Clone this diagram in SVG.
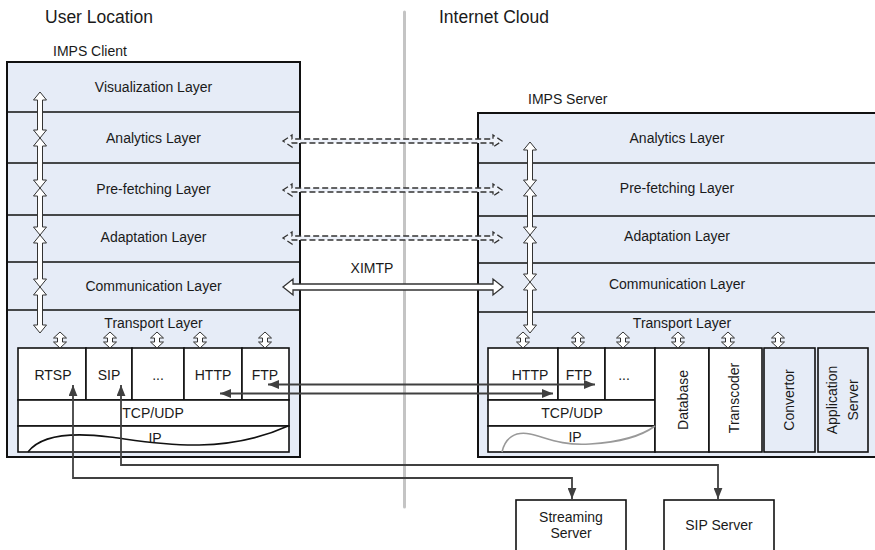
<svg xmlns="http://www.w3.org/2000/svg" width="875" height="550" viewBox="0 0 875 550">
<style>
text{font-family:"Liberation Sans",Arial,sans-serif;font-size:14px;fill:#1a1a1a}
.t{font-size:17.5px}
.m{text-anchor:middle}
.box{fill:#e6ecf7;stroke:#111;stroke-width:2}
.ln{stroke:#111;stroke-width:1.6;fill:none}
.cell{fill:#fff;stroke:#111;stroke-width:1.6}
.cellb{fill:#e6ecf7;stroke:#111;stroke-width:1.6}
.ha{fill:#fff;stroke:#333;stroke-width:1}
.da{fill:#eef2fa;stroke:#333;stroke-width:1.3;stroke-dasharray:6 3}
.xa{fill:#fff;stroke:#333;stroke-width:1.3}
.cn{fill:none;stroke:#404040;stroke-width:1.8;marker-start:url(#ah);marker-end:url(#ah)}
</style>
<defs>
<marker id="ah" viewBox="0 0 10 8" refX="10" refY="4" markerWidth="11" markerHeight="9" markerUnits="userSpaceOnUse" orient="auto-start-reverse"><path d="M0,0 L10,4 L0,8 Z" fill="#404040"/></marker>
<path id="sa" d="M0,0 L6.5,6 L2.5,6 L2.5,10 L6.5,10 L0,16 L-6.5,10 L-2.5,10 L-2.5,6 L-6.5,6 Z" class="ha"/>
</defs>

<g id="titles">
<text class="t" x="45" y="23">User Location</text>
<text class="t" x="439" y="23">Internet Cloud</text>
</g>

<line id="divider" x1="404.5" y1="12" x2="404.5" y2="507" stroke="#c4c4c4" stroke-width="3" stroke-linecap="round"/>

<g id="client">
<text x="53" y="56">IMPS Client</text>
<rect class="box" x="7" y="62" width="293" height="395"/>
<path class="ln" d="M7,112H300M7,163H300M7,215H300M7,262H300M7,310H300"/>
<text class="m" x="153.5" y="92">Visualization Layer</text>
<text class="m" x="153.5" y="143">Analytics Layer</text>
<text class="m" x="153.5" y="194">Pre-fetching Layer</text>
<text class="m" x="153.5" y="242">Adaptation Layer</text>
<text class="m" x="153.5" y="291">Communication Layer</text>
<text class="m" x="153.5" y="328">Transport Layer</text>
<rect class="cell" x="18" y="348" width="68" height="52"/>
<rect class="cell" x="86" y="348" width="46" height="52"/>
<rect class="cell" x="132" y="348" width="52" height="52"/>
<rect class="cell" x="184" y="348" width="58" height="52"/>
<rect class="cell" x="242" y="348" width="47" height="52"/>
<rect class="cell" x="18" y="400" width="271" height="26"/>
<rect class="cell" x="18" y="426" width="271" height="26"/>
<path class="ln" d="M28,452 C40,436 70,432 110,437 S220,457 288,426"/>
<text class="m" x="53" y="380">RTSP</text>
<text class="m" x="109" y="380">SIP</text>
<text class="m" x="158" y="380">...</text>
<text class="m" x="213" y="380">HTTP</text>
<text class="m" x="265" y="380">FTP</text>
<text class="m" x="153" y="418">TCP/UDP</text>
<text class="m" x="155" y="443">IP</text>
<path class="ha" d="M40,92 L46.5,100 L42.5,100 L42.5,130 L46.5,130 L40,138 L33.5,130 L37.5,130 L37.5,100 L33.5,100 Z"/>
<path class="ha" d="M40,138 L46.5,146 L42.5,146 L42.5,180 L46.5,180 L40,188 L33.5,180 L37.5,180 L37.5,146 L33.5,146 Z"/>
<path class="ha" d="M40,188 L46.5,196 L42.5,196 L42.5,227 L46.5,227 L40,235 L33.5,227 L37.5,227 L37.5,196 L33.5,196 Z"/>
<path class="ha" d="M40,235 L46.5,243 L42.5,243 L42.5,279 L46.5,279 L40,287 L33.5,279 L37.5,279 L37.5,243 L33.5,243 Z"/>
<path class="ha" d="M40,287 L46.5,295 L42.5,295 L42.5,325 L46.5,325 L40,333 L33.5,325 L37.5,325 L37.5,295 L33.5,295 Z"/>
<use href="#sa" x="60" y="332"/>
<use href="#sa" x="110" y="332"/>
<use href="#sa" x="157" y="332"/>
<use href="#sa" x="200" y="332"/>
<use href="#sa" x="265" y="332"/>
</g>

<g id="server">
<text x="528" y="104">IMPS Server</text>
<rect class="box" x="478" y="113" width="402" height="344"/>
<path class="ln" d="M478,163H880M478,216H880M478,263H880M478,312H880"/>
<text class="m" x="677" y="143">Analytics Layer</text>
<text class="m" x="677" y="193">Pre-fetching Layer</text>
<text class="m" x="677" y="241">Adaptation Layer</text>
<text class="m" x="677" y="289">Communication Layer</text>
<text class="m" x="682" y="328">Transport Layer</text>
<rect class="cell" x="488" y="348" width="70" height="52"/>
<rect class="cell" x="558" y="348" width="47" height="52"/>
<rect class="cell" x="605" y="348" width="50" height="52"/>
<rect class="cell" x="488" y="400" width="167" height="26"/>
<rect class="cell" x="488" y="426" width="167" height="26"/>
<rect class="cell" x="655" y="348" width="54" height="104"/>
<rect class="cell" x="709" y="348" width="53" height="104"/>
<rect class="cellb" x="764" y="348" width="51" height="104"/>
<rect class="cellb" x="818" y="348" width="50" height="104"/>
<path d="M502,452 C505,438 515,431 530,434 S560,446 590,444 S640,437 655,426" fill="none" stroke="#999" stroke-width="1.6"/>
<text class="m" x="530" y="380">HTTP</text>
<text class="m" x="579" y="380">FTP</text>
<text class="m" x="624" y="380">...</text>
<text class="m" x="572" y="418">TCP/UDP</text>
<text class="m" x="575" y="442">IP</text>
<text class="m" transform="translate(683,400) rotate(-90)" dy="0.35em">Database</text>
<text class="m" transform="translate(734,398) rotate(-90)" dy="0.35em">Transcoder</text>
<text class="m" transform="translate(789,400) rotate(-90)" dy="0.35em">Convertor</text>
<text class="m" transform="translate(832,400) rotate(-90)" dy="0.35em">Application</text>
<text class="m" transform="translate(853,400) rotate(-90)" dy="0.35em">Server</text>
<path class="ha" d="M530,142 L536.5,150 L532.5,150 L532.5,180 L536.5,180 L530,188 L523.5,180 L527.5,180 L527.5,150 L523.5,150 Z"/>
<path class="ha" d="M530,188 L536.5,196 L532.5,196 L532.5,227 L536.5,227 L530,235 L523.5,227 L527.5,227 L527.5,196 L523.5,196 Z"/>
<path class="ha" d="M530,235 L536.5,243 L532.5,243 L532.5,274 L536.5,274 L530,282 L523.5,274 L527.5,274 L527.5,243 L523.5,243 Z"/>
<path class="ha" d="M530,282 L536.5,290 L532.5,290 L532.5,325 L536.5,325 L530,333 L523.5,325 L527.5,325 L527.5,290 L523.5,290 Z"/>
<use href="#sa" x="523" y="332"/>
<use href="#sa" x="578" y="332"/>
<use href="#sa" x="623" y="332"/>
<use href="#sa" x="678" y="332"/>
<use href="#sa" x="728" y="332"/>
<use href="#sa" x="778" y="332"/>
</g>

<g id="streaming-server">
<rect class="cell" x="516" y="500" width="110" height="60"/>
<text class="m" x="571" y="522">Streaming</text>
<text class="m" x="571" y="538">Server</text>
</g>
<g id="sip-server">
<rect class="cell" x="664" y="500" width="110" height="60"/>
<text class="m" x="719" y="530">SIP Server</text>
</g>

<g id="connectors">
<path class="da" d="M283,141 L292,135 L292,139 L493,139 L493,135 L502,141 L493,147 L493,143 L292,143 L292,147 Z"/>
<path class="da" d="M283,190 L292,184 L292,188 L493,188 L493,184 L502,190 L493,196 L493,192 L292,192 L292,196 Z"/>
<path class="da" d="M283,238 L292,232 L292,236 L493,236 L493,232 L502,238 L493,244 L493,240 L292,240 L292,244 Z"/>
<path class="xa" d="M283,287 L293,279 L293,284 L493,284 L493,279 L503,287 L493,295 L493,290 L293,290 L293,295 Z"/>
<text class="m" x="372" y="273">XIMTP</text>
<path class="cn" d="M268,384.5 H595"/>
<path class="cn" d="M220,393.5 H553"/>
<path class="cn" d="M73,385 V478 H572 V499"/>
<path class="cn" d="M121,385 V465 H718 V499"/>
</g>
</svg>
